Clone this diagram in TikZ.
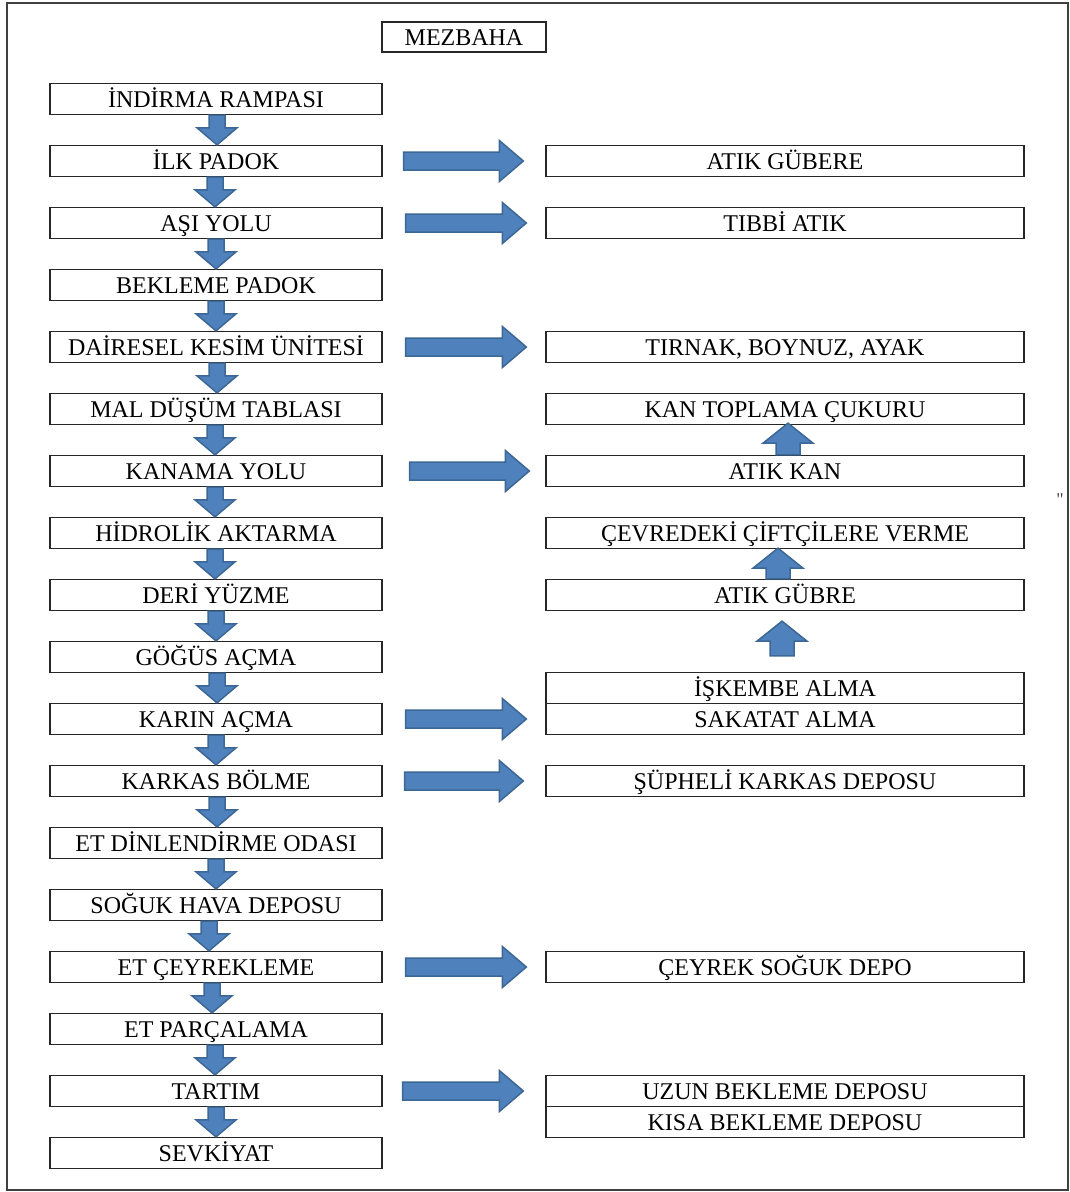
\documentclass[tikz,border=0pt]{standalone}
\usepackage{fontspec}
\setmainfont{Liberation Serif}
\newfontfamily\qfont{Liberation Serif}
\usetikzlibrary{calc}
\definecolor{arrowblue}{HTML}{4F81BD}
\definecolor{arrowedge}{HTML}{3D6794}
\tikzset{
  box/.style={draw=black!85, line width=1.3pt, fill=white, inner sep=0pt,
    minimum height=31pt, text height=16pt, text depth=0pt,
    font=\fontsize{24}{26}\selectfont},
  lbox/.style={box, minimum width=332pt},
  rbox/.style={box, minimum width=478pt},
  blk/.style={fill=arrowblue, draw=arrowedge, line width=1.5pt, line join=miter}
}
% right block arrow: #1 from node, #2 to node, #3 gap after #1, #4 gap before #2
\newcommand{\rarr}[4]{%
  \draw[blk] let \p1=($(#1.east)+(#3,0)$), \p2=($(#2.west)+(-#4,0)$) in
  (\x1,\y1+9pt) -- (\x2-24pt,\y1+9pt) -- (\x2-24pt,\y1+20.5pt) -- (\x2,\y1)
  -- (\x2-24pt,\y1-20.5pt) -- (\x2-24pt,\y1-9pt) -- (\x1,\y1-9pt) -- cycle;}
% down block arrow: #1 from node, #2 to node, #3 x shift
\newcommand{\darr}[3]{%
  \draw[blk] let \p1=($(#1.south)+(#3,0)$), \p2=($(#2.north)+(#3,0)$) in
  (\x1-8pt,\y1) -- (\x1-8pt,\y2+17pt) -- (\x1-20pt,\y2+17pt) -- (\x1,\y2)
  -- (\x1+20pt,\y2+17pt) -- (\x1+8pt,\y2+17pt) -- (\x1+8pt,\y1) -- cycle;}
% up block arrow: #1 from node (below), #2 to node (above), #3 x shift, #4 gap at #1, #5 gap at #2
\newcommand{\uarr}[5]{%
  \draw[blk] let \p1=($(#1.north)+(#3,-#4)$), \p2=($(#2.south)+(#3,#5)$) in
  (\x1-12pt,\y1) -- (\x1-12pt,\y2-20pt) -- (\x1-25pt,\y2-20pt) -- (\x1,\y2)
  -- (\x1+25pt,\y2-20pt) -- (\x1+12pt,\y2-20pt) -- (\x1+12pt,\y1) -- cycle;}
\begin{document}
\begin{tikzpicture}[x=1pt,y=-1pt]
\useasboundingbox (0,0) rectangle (1070,1192);
\draw[line width=1.5pt, black!75] (7,3) rectangle (1068,1190);

\node[box, minimum width=164pt, minimum height=30pt] (title) at (464,37) {MEZBAHA};

\node[lbox] (l0)  at (216,99)   {İNDİRMA RAMPASI};
\node[lbox] (l1)  at (216,161)  {İLK PADOK};
\node[lbox] (l2)  at (216,223)  {AŞI YOLU};
\node[lbox] (l3)  at (216,285)  {BEKLEME PADOK};
\node[lbox] (l4)  at (216,347)  {DAİRESEL KESİM ÜNİTESİ};
\node[lbox] (l5)  at (216,409)  {MAL DÜŞÜM TABLASI};
\node[lbox] (l6)  at (216,471)  {KANAMA YOLU};
\node[lbox] (l7)  at (216,533)  {HİDROLİK AKTARMA};
\node[lbox] (l8)  at (216,595)  {DERİ YÜZME};
\node[lbox] (l9)  at (216,657)  {GÖĞÜS AÇMA};
\node[lbox] (l10) at (216,719)  {KARIN AÇMA};
\node[lbox] (l11) at (216,781)  {KARKAS BÖLME};
\node[lbox] (l12) at (216,843)  {ET DİNLENDİRME ODASI};
\node[lbox] (l13) at (216,905)  {SOĞUK HAVA DEPOSU};
\node[lbox] (l14) at (216,967)  {ET ÇEYREKLEME};
\node[lbox] (l15) at (216,1029) {ET PARÇALAMA};
\node[lbox] (l16) at (216,1091) {TARTIM};
\node[lbox] (l17) at (216,1153) {SEVKİYAT};

\node[rbox] (rgubere)  at (785,161)   {ATIK GÜBERE};
\node[rbox] (rtibbi)   at (785,223)   {TIBBİ ATIK};
\node[rbox] (rtirnak)  at (785,347)   {TIRNAK, BOYNUZ, AYAK};
\node[rbox] (rkantop)  at (785,409)   {KAN TOPLAMA ÇUKURU};
\node[rbox] (ratikkan) at (785,471)   {ATIK KAN};
\node[rbox] (rcevre)   at (785,533)   {ÇEVREDEKİ ÇİFTÇİLERE VERME};
\node[rbox] (rgubre)   at (785,595)   {ATIK GÜBRE};
\node[rbox] (riskembe) at (785,688)   {İŞKEMBE ALMA};
\node[rbox] (rsakatat) at (785,719)   {SAKATAT ALMA};
\node[rbox] (rsupheli) at (785,781)   {ŞÜPHELİ KARKAS DEPOSU};
\node[rbox] (rceyrek)  at (785,967)   {ÇEYREK SOĞUK DEPO};
\node[rbox] (ruzun)    at (785,1091)  {UZUN BEKLEME DEPOSU};
\node[rbox] (rkisa)    at (785,1122)  {KISA BEKLEME DEPOSU};

\node[font=\qfont\fontsize{18}{18}\selectfont, text=black!75, inner sep=0pt] (quote) at (1060,500) {"};

% down arrows
\darr{l0}{l1}{1}
\darr{l1}{l2}{-1}
\darr{l2}{l3}{0}
\darr{l3}{l4}{0}
\darr{l4}{l5}{1}
\darr{l5}{l6}{-1}
\darr{l6}{l7}{-1}
\darr{l7}{l8}{-1}
\darr{l8}{l9}{0}
\darr{l9}{l10}{1}
\darr{l10}{l11}{0}
\darr{l11}{l12}{1}
\darr{l12}{l13}{0}
\darr{l13}{l14}{-7}
\darr{l14}{l15}{-4}
\darr{l15}{l16}{-1}
\darr{l16}{l17}{0}

% right arrows
\rarr{l1}{rgubere}{21}{22}
\rarr{l2}{rtibbi}{23}{19}
\rarr{l4}{rtirnak}{23}{19}
\rarr{l6}{ratikkan}{27}{16}
\rarr{l10}{rsakatat}{23}{19}
\rarr{l11}{rsupheli}{22}{22}
\rarr{l14}{rceyrek}{23}{19}
\rarr{l16}{ruzun}{20}{22}

% up arrows
\uarr{ratikkan}{rkantop}{3}{0}{-2}
\uarr{rgubre}{rcevre}{-7}{0}{-1}
\uarr{riskembe}{rgubre}{-3}{16}{10}
\end{tikzpicture}
\end{document}
